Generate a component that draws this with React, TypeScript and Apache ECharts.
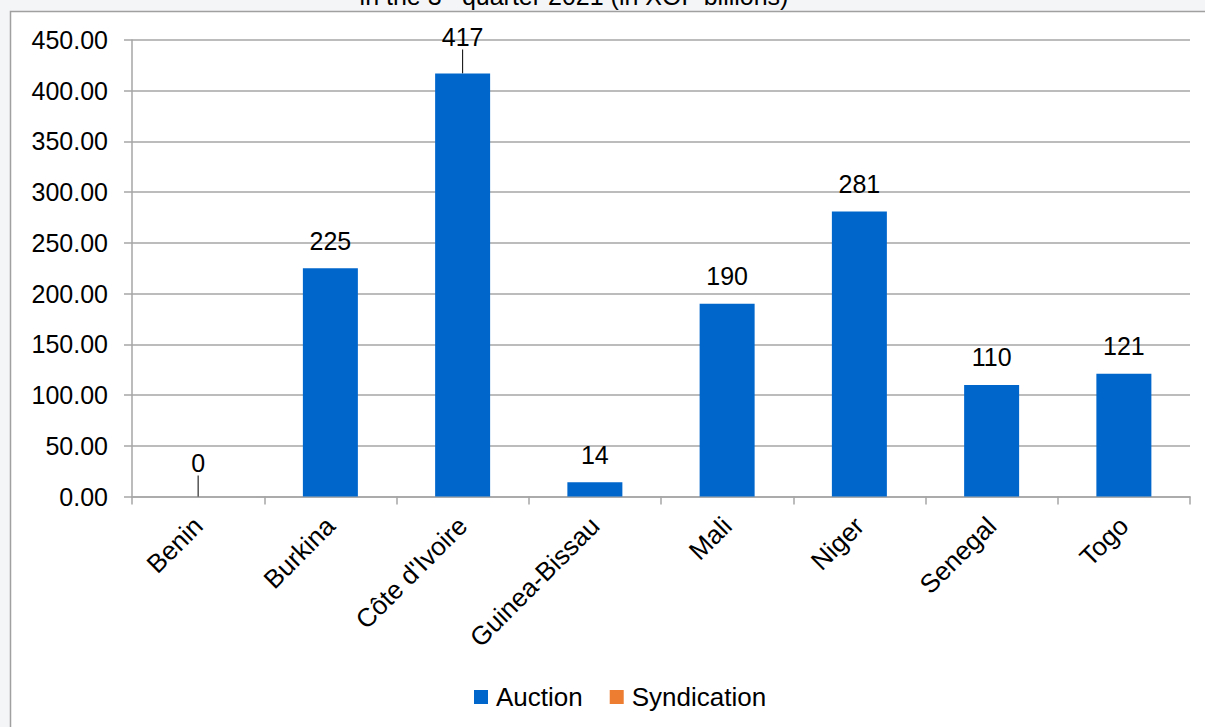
import React, { useEffect, useRef } from "react";
import * as echarts from "echarts";

const categories = ["Benin", "Burkina", "Côte d'Ivoire", "Guinea-Bissau", "Mali", "Niger", "Senegal", "Togo"];
const auction = [0, 225, 417, 14, 190, 281, 110, 121];
const syndication = [0, 0, 0, 0, 0, 0, 0, 0];
const movedLabels = [0, 2];
const yTicks = { min: 0, max: 450, interval: 50 };
const titleText = "in the 3{sup|rd} quarter 2021 (in XOF billions)";

const FONT = 'Arial, "Liberation Sans", sans-serif';

export default function App() {
  const ref = useRef<HTMLDivElement>(null);
  useEffect(() => {
    if (!ref.current) return;
    const chart = echarts.init(ref.current, null, { renderer: "svg" });
    chart.setOption({
      animation: false,
      backgroundColor: "#f4f5f7",
      textStyle: { fontFamily: FONT },
      graphic: [
        {
          type: "rect",
          z: -10,
          silent: true,
          shape: { x: 10.5, y: 11.5, width: 1300, height: 900 },
          style: { fill: "#ffffff", stroke: "#a0a0a0", lineWidth: 1.5 },
        },
        {
          type: "text",
          x: 574,
          y: -4,
          style: {
            text: titleText,
            fontSize: 25,
            fontFamily: FONT,
            fill: "#000",
            align: "center",
            verticalAlign: "middle",
            rich: { sup: { fontSize: 15, verticalAlign: "top", fontFamily: FONT } },
          },
        },
      ],
      legend: {
        left: 469,
        top: 679,
        icon: "rect",
        itemWidth: 14,
        itemHeight: 14,
        itemGap: 27,
        textStyle: { fontSize: 26, color: "#000", fontFamily: FONT, padding: [0, 0, 0, 3] },
        data: ["Auction", "Syndication"],
      },
      grid: { left: 132, right: 15, top: 40, bottom: 230.5 },
      xAxis: {
        type: "category",
        data: categories,
        axisLine: { lineStyle: { color: "#a6a6a6", width: 1.5 } },
        axisTick: { show: true, alignWithLabel: false, length: 8, lineStyle: { color: "#a6a6a6", width: 1.5 } },
        axisLabel: { rotate: 45, fontSize: 26, color: "#000", margin: 25, interval: 0, fontFamily: FONT },
      },
      yAxis: {
        type: "value",
        min: yTicks.min,
        max: yTicks.max,
        interval: yTicks.interval,
        axisLine: { show: true, lineStyle: { color: "#a6a6a6", width: 1.5 } },
        axisTick: { show: true, inside: false, length: 8, lineStyle: { color: "#a6a6a6", width: 1.5 } },
        splitLine: { lineStyle: { color: "#a6a6a6", width: 1.5 } },
        axisLabel: {
          fontSize: 25,
          color: "#000",
          margin: 24,
          fontFamily: FONT,
          formatter: (v: number) => v.toFixed(2),
        },
      },
      series: [
        {
          name: "Auction",
          type: "bar",
          stack: "total",
          barWidth: 55,
          data: auction.map((v, i) =>
            movedLabels.includes(i)
              ? { value: v, labelLine: { show: true, lineStyle: { color: "#000", width: 1 } } }
              : { value: v }
          ),
          itemStyle: { color: "#0066cc" },
          label: {
            show: true,
            position: "top",
            distance: 15,
            fontSize: 25,
            color: "#000",
            fontFamily: FONT,
          },
          labelLine: { show: false },
          labelLayout: (p: any) => {
            if (p.dataIndex === 2) return { dy: -9 };
            if (p.dataIndex === 0) return { dy: -6 };
            return {};
          },
        },
        {
          name: "Syndication",
          type: "bar",
          stack: "total",
          barWidth: 55,
          data: syndication,
          itemStyle: { color: "#ed7d31" },
        },
      ],
    });
    return () => chart.dispose();
  }, []);
  return (
    <div
      ref={ref}
      style={{ position: "fixed", left: 0, top: 0, width: 1205, height: 727 }}
    />
  );
}
